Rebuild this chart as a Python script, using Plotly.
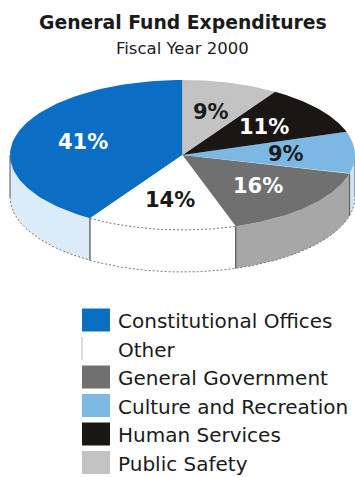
import numpy as np
import plotly.graph_objects as go

# ---- data ----
categories = ["Constitutional Offices", "Other", "General Government",
              "Culture and Recreation", "Human Services", "Public Safety"]
shares = [41, 14, 16, 9, 11, 9]
top_colors = ["#0b6ec4", "#ffffff", "#707070", "#7db7e4", "#1a1614", "#c3c3c3"]
side_colors = ["#dcebf8", "#ffffff", "#a7a7a7", "#cfe4f6", "#1a1614", "#c3c3c3"]
label_colors = ["#ffffff", "#1a1a1a", "#ffffff", "#1a1a1a", "#ffffff", "#1a1a1a"]
title = "General Fund Expenditures"
subtitle = "Fiscal Year 2000"

# ---- geometry of the tilted pie (plot units = pixels) ----
W, H = 355, 477
CX, CY = 182.5, 155.0
RX, RY = 172.5, 75.0
DEPTH = 42.0
FONT = "DejaVu Sans"


def rim(theta_deg, drop=0.0, scale=1.0):
    """Point on the ellipse; theta counterclockwise from 12 o'clock."""
    t = np.radians(theta_deg)
    return CX - scale * RX * np.sin(t), CY - scale * RY * np.cos(t) + drop


def arc(a, b, drop=0.0, n=80):
    th = np.linspace(a, b, n)
    return rim(th, drop)


bounds = np.concatenate([[0], np.cumsum(shares)]) * 360.0 / sum(shares)

fig = go.Figure()

# side walls (only the front half, 90..270 degrees, faces the viewer)
for i, cat in enumerate(categories):
    a, b = max(bounds[i], 90.0), min(bounds[i + 1], 270.0)
    if a >= b:
        continue
    tx, ty = arc(a, b)
    bx, by = arc(b, a, DEPTH)
    fig.add_trace(go.Scatter(
        x=np.concatenate([tx, bx, tx[:1]]), y=np.concatenate([ty, by, ty[:1]]),
        mode="lines", fill="toself", fillcolor=side_colors[i],
        line=dict(width=0), hoverinfo="skip", showlegend=False))
    # vertical edges of the wall
    for ang in (a, b):
        ex, ey = rim(ang)
        fig.add_trace(go.Scatter(
            x=[ex, ex], y=[ey, ey + DEPTH], mode="lines",
            line=dict(color="#555555", width=1), hoverinfo="skip", showlegend=False))

# dashed lower rim
bx, by = arc(90, 270, DEPTH, 160)
fig.add_trace(go.Scatter(x=bx, y=by, mode="lines",
                         line=dict(color="#777777", width=1, dash="2px,2px"),
                         hoverinfo="skip", showlegend=False))

# top faces
for i, cat in enumerate(categories):
    tx, ty = arc(bounds[i], bounds[i + 1])
    fig.add_trace(go.Scatter(
        x=np.concatenate([[CX], tx, [CX]]), y=np.concatenate([[CY], ty, [CY]]),
        mode="lines", fill="toself", fillcolor=top_colors[i],
        line=dict(width=0), name=cat, hoverinfo="skip", showlegend=False))

# dashed outline where the white slice meets its wall
wi = categories.index("Other")
tx, ty = arc(bounds[wi], bounds[wi + 1])
fig.add_trace(go.Scatter(x=tx, y=ty, mode="lines",
                         line=dict(color="#777777", width=1, dash="2px,2px"),
                         hoverinfo="skip", showlegend=False))

annotations = []
# percentage labels
for i, v in enumerate(shares):
    m = 0.5 * (bounds[i] + bounds[i + 1])
    lx, ly = rim(m, scale=0.6)
    annotations.append(dict(x=lx, y=ly, xref="x", yref="y", text=f"<b>{v}%</b>",
                            showarrow=False, font=dict(family=FONT, size=21,
                                                       color=label_colors[i])))

# titles
annotations.append(dict(x=CX, y=22, xref="x", yref="y", text=f"<b>{title}</b>",
                        showarrow=False, font=dict(family=FONT, size=18.8, color="#1a1a1a")))
annotations.append(dict(x=CX, y=48, xref="x", yref="y", text=subtitle,
                        showarrow=False, font=dict(family=FONT, size=16.5, color="#1a1a1a")))

# legend as swatches + text
shapes = []
row0, step = 320.0, 28.5
for i, cat in enumerate(categories):
    yc = row0 + i * step
    shapes.append(dict(type="rect", xref="x", yref="y", x0=82, x1=110,
                       y0=yc - 11.5, y1=yc + 11.5, fillcolor=top_colors[i],
                       line=dict(width=0), layer="above"))
    if top_colors[i].lower() == "#ffffff":
        shapes.append(dict(type="line", xref="x", yref="y", x0=82, x1=82,
                           y0=yc - 11.5, y1=yc + 11.5,
                           line=dict(color="#bbbbbb", width=1)))
    annotations.append(dict(x=116, y=yc + 1, xref="x", yref="y", text=cat,
                            xanchor="left", yanchor="middle", showarrow=False,
                            font=dict(family=FONT, size=20, color="#1a1a1a")))

fig.update_layout(
    width=W, height=H, margin=dict(l=0, r=0, t=0, b=0),
    paper_bgcolor="white", plot_bgcolor="white",
    xaxis=dict(range=[0, W], visible=False, fixedrange=True),
    yaxis=dict(range=[H, 0], visible=False, fixedrange=True),
    annotations=annotations, shapes=shapes, showlegend=False,
)

fig.write_html("out.html")
